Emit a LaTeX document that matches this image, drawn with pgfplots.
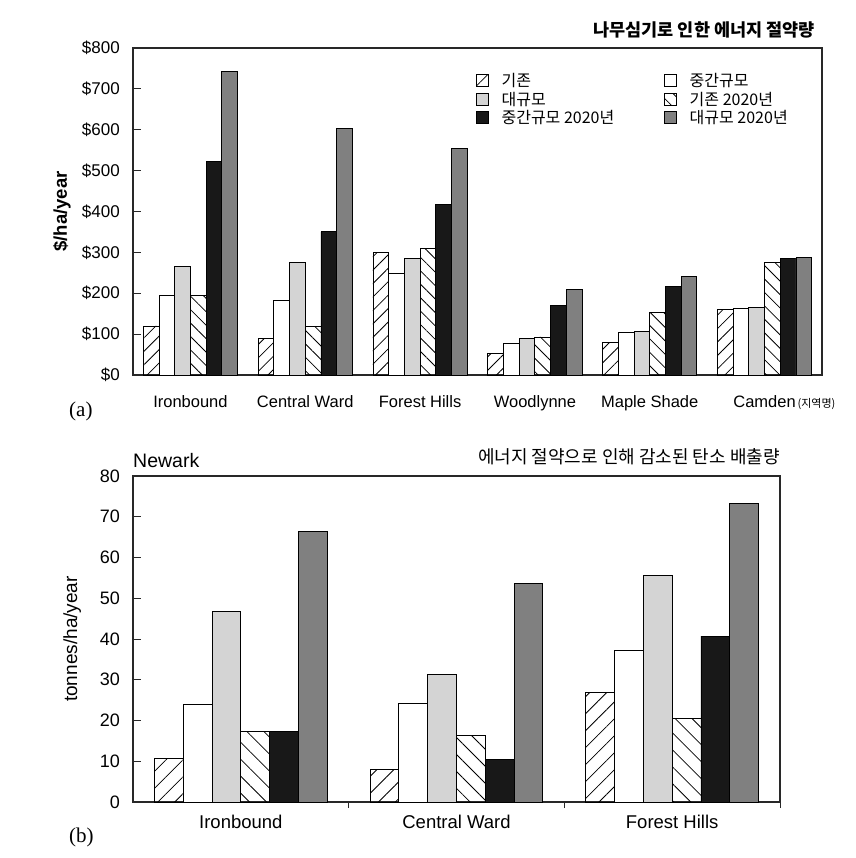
\documentclass[border=0pt]{standalone}
\usepackage{pgfplots}
\pgfplotsset{compat=1.18}
\usetikzlibrary{patterns.meta}
\usepackage{fontspec}
\setmainfont{Liberation Sans}
\newfontfamily\kr{Noto Sans CJK KR}
\newfontfamily\serif{Liberation Serif}
\definecolor{lg}{RGB}{212,212,212}
\definecolor{dg}{RGB}{128,128,128}
\definecolor{bk}{RGB}{24,24,24}
\definecolor{ax}{RGB}{40,40,40}
\pgfplotsset{
  barA/.style={draw=black, line width=0.9pt, pattern={Lines[angle=45,distance=#1,line width=0.8pt]}, pattern color=black},
  barD/.style={draw=black, line width=0.9pt, pattern={Lines[angle=-45,distance=#1,line width=0.8pt]}, pattern color=black},
  barW/.style={draw=black, line width=0.9pt, fill=white},
  barL/.style={draw=black, line width=0.9pt, fill=lg},
  barK/.style={draw=black, line width=0.9pt, fill=bk},
  barG/.style={draw=black, line width=0.9pt, fill=dg},
}
\begin{document}
\begin{tikzpicture}
\useasboundingbox (0,0) rectangle (855pt,-858pt);
% ---------------- (a) ----------------
\begin{axis}[
  at={(133pt,-375pt)}, anchor=south west,
  scale only axis, width=689pt, height=327pt,
  ybar=0pt, bar width=15.7pt,
  xmin=-0.5, xmax=5.5, ymin=0, ymax=800,
  axis line style={draw=ax, line width=1.3pt},
  xtick={0,1,2,3,4,5},
  xticklabels={Ironbound, Central Ward, Forest Hills, Woodlynne, Maple Shade, {Camden\rlap{\kr\fontsize{11}{12}\selectfont\,(지역명)}}},
  major x tick style={draw=none},
  xticklabel style={font=\fontsize{16.5}{19}\selectfont, anchor=base, inner sep=0pt, yshift=-32pt},
  ytick={0,100,...,800},
  yticklabels={\$0,\$100,\$200,\$300,\$400,\$500,\$600,\$700,\$800},
  ytick pos=left, tick align=inside, major tick length=8pt,
  major y tick style={draw=ax, line width=1pt},
  yticklabel style={font=\fontsize{17}{20}\selectfont, anchor=east, inner sep=0pt, xshift=-13pt},
  ylabel={\bfseries \$/ha/year},
  every axis y label/.style={at={(axis description cs:-0.103,0.5)}, rotate=90, anchor=center, font=\fontsize{18.5}{21}\selectfont},
  legend columns=2,
  legend style={at={(0.497,0.927)}, anchor=north west, draw=none, fill=none,
    font=\kr\fontsize{16}{19}\selectfont, inner sep=0pt,
    nodes={inner sep=1.5pt, anchor=west}, row sep=0.5pt,
    /tikz/every even column/.append style={column sep=48pt}},
  legend cell align=left,
  legend image code/.code={\draw[#1] (0pt,-6pt) rectangle (12pt,6pt); \path[draw=none,fill=none] (0pt,0pt) -- (24pt,0pt);},
]
\addplot[barA=9.5pt] coordinates {(0,120) (1,90) (2,300) (3,52) (4,80) (5,160)};
\addplot[barW] coordinates {(0,195) (1,182) (2,248) (3,78) (4,103) (5,162)};
\addplot[barL] coordinates {(0,265) (1,275) (2,284) (3,90) (4,106) (5,165)};
\addplot[barD=9.5pt] coordinates {(0,195) (1,118) (2,310) (3,93) (4,153) (5,275)};
\addplot[barK] coordinates {(0,522) (1,350) (2,418) (3,170) (4,217) (5,284)};
\addplot[barG] coordinates {(0,743) (1,603) (2,555) (3,210) (4,242) (5,287)};
\legend{기존, 중간규모, 대규모, 기존 2020년, 중간규모 2020년, 대규모 2020년}
\end{axis}
\node[font=\kr\bfseries\fontsize{17.5}{20}\selectfont, anchor=base east, inner sep=0pt] at (815pt,-37pt) {나무심기로 인한 에너지 절약량};
\node[font=\serif\fontsize{21}{24}\selectfont, anchor=base west, inner sep=0pt] at (69pt,-416pt) {(a)};
% ---------------- (b) ----------------
\begin{axis}[
  at={(133pt,-802pt)}, anchor=south west,
  scale only axis, width=647pt, height=326pt,
  ybar=0pt, bar width=28.8pt,
  xmin=-0.5, xmax=2.5, ymin=0, ymax=80,
  /pgf/number format/assume math mode=true,
  axis line style={draw=ax, line width=1.3pt},
  xtick={0,1,2},
  xticklabels={Ironbound, Central Ward, Forest Hills},
  major x tick style={draw=none},
  xticklabel style={font=\fontsize{18.5}{21}\selectfont, anchor=base, inner sep=0pt, yshift=-26pt},
  extra x ticks={0.5,1.5,2.5},
  extra x tick labels={},
  extra x tick style={tick align=outside, major tick length=6pt, major x tick style={draw=ax, line width=1pt}, xtick pos=bottom},
  ytick={0,10,...,80},
  ytick pos=left, tick align=inside, major tick length=8pt,
  major y tick style={draw=ax, line width=1pt},
  yticklabel style={font=\fontsize{18}{21}\selectfont, anchor=east, inner sep=0pt, xshift=-13pt},
  ylabel={tonnes/ha/year},
  every axis y label/.style={at={(axis description cs:-0.094,0.5)}, rotate=90, anchor=center, font=\fontsize{19}{22}\selectfont},
]
\addplot[barA=12pt] coordinates {(0,10.8) (1,8.0) (2,26.8)};
\addplot[barW] coordinates {(0,23.9) (1,24.2) (2,37.1)};
\addplot[barL] coordinates {(0,46.8) (1,31.3) (2,55.5)};
\addplot[barD=12pt] coordinates {(0,17.3) (1,16.3) (2,20.6)};
\addplot[barK] coordinates {(0,17.3) (1,10.5) (2,40.7)};
\addplot[barG] coordinates {(0,66.5) (1,53.7) (2,73.3)};
\end{axis}
\node[font=\fontsize{19.5}{22}\selectfont, anchor=base west, inner sep=0pt] at (133pt,-467pt) {Newark};
\node[font=\kr\fontsize{18}{21}\selectfont, anchor=base east, inner sep=0pt] at (780pt,-463pt) {에너지 절약으로 인해 감소된 탄소 배출량};
\node[font=\serif\fontsize{21}{24}\selectfont, anchor=base west, inner sep=0pt] at (69pt,-842pt) {(b)};
\end{tikzpicture}
\end{document}
